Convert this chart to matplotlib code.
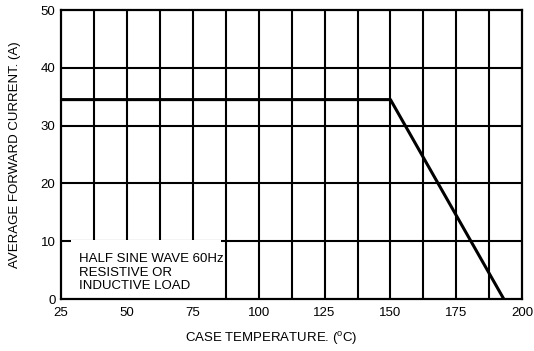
import matplotlib
matplotlib.use("Agg")
import matplotlib.pyplot as plt
from matplotlib.patches import Rectangle

plt.rcParams['font.family'] = ['Liberation Sans', 'DejaVu Sans']
plt.rcParams['mathtext.fontset'] = 'custom'
plt.rcParams['mathtext.rm'] = 'Liberation Sans'

# derating curve: case temperature (C) vs average forward current (A)
temp = [25, 150, 193]
current = [34.5, 34.5, 0]

x_ticks = [25, 50, 75, 100, 125, 150, 175, 200]
x_grid = [37.5, 50, 62.5, 75, 87.5, 100, 112.5, 125, 137.5, 150, 162.5, 175, 187.5]
y_ticks = [0, 10, 20, 30, 40, 50]
y_grid = [10, 20, 30, 40]
note = "HALF SINE WAVE 60Hz\nRESISTIVE OR\nINDUCTIVE LOAD"

fig = plt.figure(figsize=(5.34, 3.51), dpi=100)
ax = fig.add_axes([0.1142, 0.148, 0.978 - 0.1142, 0.9715 - 0.148])

for x in x_grid:
    ax.axvline(x, color='black', lw=1.5, zorder=1)
for y in y_grid:
    ax.axhline(y, color='black', lw=1.5, zorder=1)

ax.add_patch(Rectangle((28.8, 0), 85.7 - 28.8, 10.15, facecolor='white',
                       edgecolor='none', zorder=2))
ax.text(31.8, 8.0, note, fontsize=9.5, va='top', ha='left', linespacing=1.2, zorder=3)

ax.plot(temp, current, color='black', lw=2.2, zorder=4, solid_capstyle='butt')

ax.set_xlim(25, 200)
ax.set_ylim(0, 50)
ax.set_xticks(x_ticks)
ax.set_yticks(y_ticks)
ax.tick_params(length=0, labelsize=9.5)
ax.tick_params(axis='x', pad=6)
ax.tick_params(axis='y', pad=4)
for s in ax.spines.values():
    s.set_linewidth(1.6)
    s.set_zorder(5)

ax.set_xlabel(r"CASE TEMPERATURE. ($^{\rm o}$C)", fontsize=9.5, labelpad=8, x=0.455)
ax.set_ylabel("AVERAGE FORWARD CURRENT. (A)", fontsize=9.5, labelpad=14)

fig.savefig("out.png", dpi=100)
